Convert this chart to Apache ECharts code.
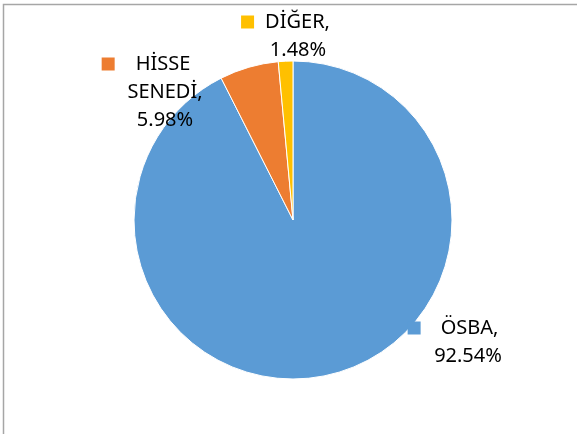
<!DOCTYPE html>
<html>
<head>
<meta charset="utf-8">
<style>
  html, body { margin: 0; padding: 0; background: #fff; }
  #chart { width: 577px; height: 434px; }
</style>
<script src="https://cdn.jsdelivr.net/npm/echarts@6/dist/echarts.min.js"></script>
</head>
<body>
<div id="chart"></div>
<script>
  // veriler
  var categories = ['ÖSBA', 'HİSSE SENEDİ', 'DİĞER'];
  var labelNames = ['ÖSBA,', 'HİSSE\nSENEDİ,', 'DİĞER,'];
  var shares = [92.54, 5.98, 1.48];
  var colors = ['#5B9BD5', '#ED7D31', '#FFC000'];

  // etiket yerleşimi (merkez x, üst y)
  var labelPos = [[468, 314], [165, 50], [298, 8]];
  var gapW = [20, 21, 11];
  var padW = [30, 38, 25];

  var chart = echarts.init(document.getElementById('chart'));

  function labelText(i) {
    var lines = labelNames[i].split('\n');
    var out = '{sq' + i + '|}{g' + i + '|}{t|' + lines[0] + '}{p' + i + '|}';
    for (var k = 1; k < lines.length; k++) {
      out += '\n{t|' + lines[k] + '}';
    }
    return out + '\n{t|' + shares[i].toFixed(2) + '%}';
  }

  var rich = {
    t: { fontFamily: 'Noto Sans', fontSize: 20, color: '#000', lineHeight: 28 }
  };
  colors.forEach(function (c, i) {
    rich['sq' + i] = { width: 13, height: 13, backgroundColor: c };
    rich['g' + i] = { width: gapW[i] };
    rich['p' + i] = { width: padW[i] };
  });

  chart.setOption({
    backgroundColor: '#fff',
    animation: false,
    graphic: [{
      type: 'polyline',
      shape: { points: [[3.5, 434], [3.5, 4.5], [577, 4.5]] },
      style: { stroke: '#A6A6A6', lineWidth: 1.5, fill: null }
    }],
    series: [{
      type: 'pie',
      center: [293, 220],
      radius: 159,
      startAngle: 90,
      clockwise: true,
      itemStyle: { borderColor: '#fff', borderWidth: 1 },
      label: {
        show: true,
        position: 'outside',
        align: 'center',
        formatter: function (p) { return labelText(p.dataIndex); },
        rich: rich
      },
      labelLine: { show: false },
      labelLayout: function (p) {
        var pos = labelPos[p.dataIndex];
        return { x: pos[0], y: pos[1], align: 'center', verticalAlign: 'top' };
      },
      emphasis: { disabled: true },
      data: categories.map(function (name, i) {
        return { name: name, value: shares[i], itemStyle: { color: colors[i] } };
      })
    }]
  });
</script>
</body>
</html>
